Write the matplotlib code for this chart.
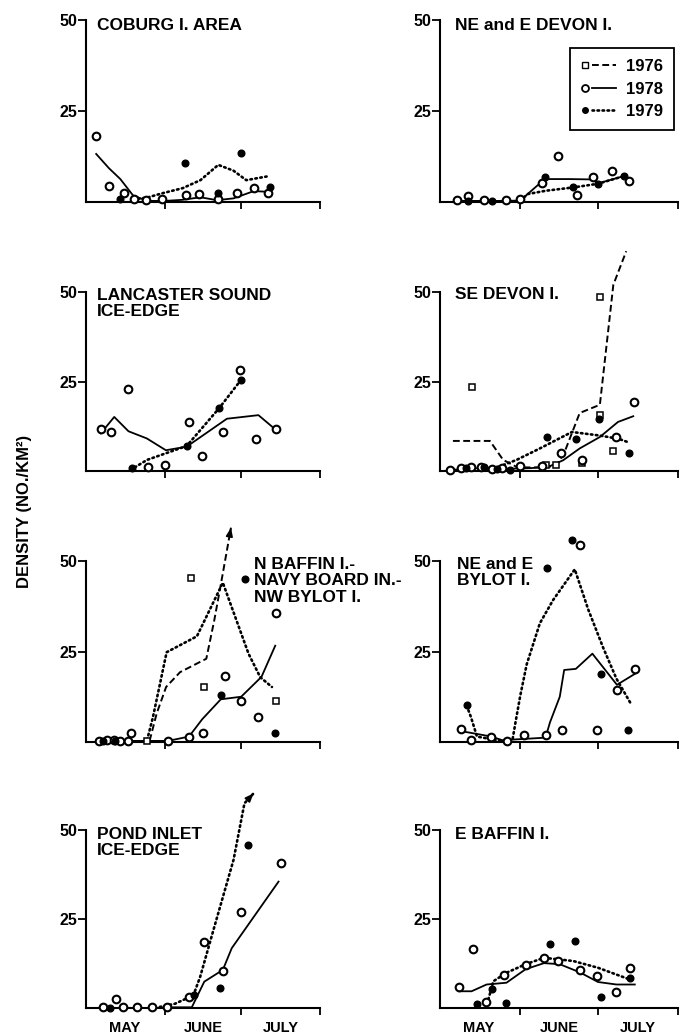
import matplotlib
matplotlib.use('Agg')
import matplotlib.pyplot as plt
import numpy as np
from matplotlib.lines import Line2D
from matplotlib.legend_handler import HandlerBase

plt.rcParams['font.family'] = ['Liberation Sans', 'DejaVu Sans']
plt.rcParams['font.weight'] = 'bold'

# %% data: x = days since 1 May, y = density (no./km2)
# COBURG I. AREA
cob_o_day = [4, 9, 15, 19, 23.5, 30, 39.5, 44.5, 52, 59.5, 66, 71.5]
cob_o_val = [18.1, 4.4, 2.6, 0.7, 0.5, 0.7, 1.9, 2.1, 0.7, 2.4, 3.9, 2.4]
cob_f_day = [13.5, 39, 52, 61, 72.5]
cob_f_val = [0.7, 10.8, 2.6, 13.4, 4.0]
cob_78_day = [4, 9, 13.5, 18.5, 24, 31, 38, 45, 51.5, 58, 66, 71.5]
cob_78_val = [13.2, 9.3, 6.3, 1.8, 0.3, 0.3, 0.6, 1.3, 0.5, 1.0, 3.0, 2.8]
cob_79_day = [18.5, 24, 30, 38, 45, 52, 58, 63, 71]
cob_79_val = [0.7, 1.2, 2.4, 3.8, 6.0, 10.2, 8.6, 6.0, 7.0]

# NE and E DEVON I.
ned_o_day = [6.7, 11, 17, 25.5, 31, 39.5, 45.5, 53, 59, 66.5, 73]
ned_o_val = [0.5, 1.7, 0.5, 0.5, 0.9, 5.1, 12.6, 1.9, 6.8, 8.5, 5.9]
ned_f_day = [11, 20, 40.5, 51.5, 61, 71]
ned_f_val = [0.2, 0.3, 6.8, 4.0, 5.0, 7.1]
ned_78_day = [6.7, 15, 25, 31, 40.5, 50, 59, 61, 71, 73]
ned_78_val = [0.3, 0.3, 0.3, 0.4, 6.3, 6.3, 6.2, 5.1, 7.1, 6.1]
ned_79_day = [31, 34, 41, 51.5, 61, 71, 73]
ned_79_val = [0.4, 2.2, 3.1, 4.0, 5.0, 7.1, 6.3]

# LANCASTER SOUND ICE-EDGE
lan_o_day = [6, 10, 16.7, 24.3, 31, 40.3, 45.8, 54, 60.6, 67, 74.8]
lan_o_val = [11.7, 10.8, 22.9, 1.0, 1.7, 13.7, 4.3, 11.0, 28.2, 8.8, 11.7]
lan_f_day = [18.2, 39.6, 52.4, 61]
lan_f_val = [0.8, 7.0, 17.6, 25.5]
lan_78_day = [5.8, 11.1, 16.7, 23.9, 31.4, 39.6, 55.4, 67.8, 74.8]
lan_78_val = [10.5, 15.1, 11.1, 9.1, 5.8, 6.8, 14.6, 15.6, 11.4]
lan_79_day = [17.5, 24, 39.6, 52.4, 61]
lan_79_val = [0.3, 3.1, 7.0, 17.6, 25.5]

# SE DEVON I.
sed_s_day = [12.5, 41, 45, 54.7, 61.8, 61.8, 66.9]
sed_s_val = [23.6, 1.7, 1.7, 2.1, 48.6, 15.6, 5.6]
sed_o_day = [4, 8, 12, 16, 20, 24, 31, 39.5, 46.9, 54.7, 68.2, 75]
sed_o_val = [0.3, 0.8, 1.0, 1.2, 0.6, 0.8, 1.5, 1.3, 4.9, 3.2, 9.5, 19.4]
sed_f_day = [10, 17, 22, 27, 41.5, 52.4, 61.5, 73.1]
sed_f_val = [0.8, 1.2, 0.6, 0.4, 9.4, 8.9, 14.4, 4.9]
sed_76_day = [5, 19.3, 24.4, 30, 40, 45, 48, 54, 61.8, 67, 72]
sed_76_val = [8.4, 8.4, 3.1, 1.0, 1.0, 1.5, 5.0, 16.2, 18.5, 52, 61.4]
sed_78_day = [4, 15, 25, 35, 42, 47.6, 54, 61.8, 68.8, 74.7]
sed_78_val = [0.3, 0.8, 0.6, 0.8, 1.2, 3.0, 6.3, 9.5, 13.7, 15.3]
sed_79_day = [15, 22, 29.6, 38.6, 51, 61.8, 69, 73.3]
sed_79_val = [0.5, 1.0, 3.1, 6.3, 10.9, 9.9, 9.0, 7.9]

# N BAFFIN I.- NAVY BOARD IN.- NW BYLOT I.
nbf_s_day = [23.9, 41.2, 46.5, 74.8]
nbf_s_val = [0.2, 45.4, 15.2, 11.3]
nbf_o_day = [5.1, 8.1, 10.9, 13.4, 16.4, 17.6, 32.2, 40.5, 46, 54.7, 61, 67.8, 74.8]
nbf_o_val = [0.3, 0.5, 0.5, 0.3, 0.3, 2.4, 0.3, 1.5, 2.4, 18.1, 11.3, 7.0, 35.5]
nbf_f_day = [6.5, 11.5, 53.1, 62.6, 74.3]
nbf_f_val = [0.2, 0.4, 13.1, 45.0, 2.6]
nbf_76_day = [25, 27.8, 31.5, 37, 47.3, 50.4, 52.8, 57]
nbf_76_val = [0.3, 7.9, 15.2, 19.3, 23.0, 33.5, 42.7, 59.2]
nbf_78_day = [4, 20, 32.2, 40.5, 45.7, 53, 61, 69, 74.4]
nbf_78_val = [0.3, 0.3, 0.3, 1.5, 6.3, 11.8, 12.5, 18.0, 26.6]
nbf_79_day = [24, 26.3, 31.7, 43.6, 53.8, 63.9, 68.5, 73.1]
nbf_79_val = [0.5, 6.8, 24.8, 29.2, 44.0, 24.4, 17.9, 15.2]

# NE and E BYLOT I.
neb_o_day = [8.2, 12, 19.9, 26, 32.4, 40.8, 47.1, 54.3, 60.7, 68.6, 75.3]
neb_o_val = [3.5, 0.5, 1.5, 0.3, 1.8, 1.8, 3.4, 54.3, 3.4, 14.4, 20.3]
neb_f_day = [10.3, 41.4, 51.2, 62.4, 72.8]
neb_f_val = [10.1, 48.2, 55.8, 18.8, 3.2]
neb_78_day = [8.2, 19.9, 24, 40.8, 42.5, 46.3, 48, 52.5, 58.9, 68.4, 76.2]
neb_78_val = [3.0, 1.5, 0.5, 1.2, 5.4, 12.5, 19.9, 20.2, 24.4, 15.8, 19.2]
neb_79_day = [10.3, 12, 14.3, 22, 28, 29.2, 31, 33.5, 38.6, 43.7, 52.1, 57.3, 63.1, 68.2, 74]
neb_79_val = [10.1, 6.8, 1.5, 0.5, 0.5, 5.5, 12.7, 21.4, 32.8, 39.2, 47.7, 36.6, 26.0, 17.5, 10.3]

# POND INLET ICE-EDGE
pon_o_day = [6.6, 11.8, 14.7, 19.9, 25.8, 31.8, 40.3, 46.2, 53.8, 61, 76.6]
pon_o_val = [0.2, 2.4, 0.2, 0.4, 0.4, 0.2, 3.2, 18.6, 10.5, 27.1, 40.8]
pon_f_day = [9.4, 42.3, 52.5, 63.5]
pon_f_val = [0.0, 3.7, 5.5, 45.8]
pon_78_day = [31.8, 41.6, 46.5, 53.8, 57.3, 75.7]
pon_78_val = [0.2, 0.2, 7.4, 10.7, 16.8, 35.5]
pon_79_day = [29, 35, 39.6, 42.3, 44.9, 50.1, 58, 62.3, 65.9]
pon_79_val = [0.3, 1.2, 2.7, 3.7, 8.8, 21.9, 41.6, 57.5, 60.3]

# E BAFFIN I.
ebf_o_day = [7.3, 12.6, 17.6, 24.8, 33.1, 40.2, 45.7, 54.1, 60.8, 67.9, 73.4]
ebf_o_val = [5.9, 16.5, 1.7, 9.4, 12.1, 14.0, 13.2, 10.8, 8.9, 4.4, 11.3]
ebf_f_day = [14.4, 20, 25.4, 42.5, 52.1, 62.2, 73.4]
ebf_f_val = [1.0, 5.4, 1.4, 18.0, 18.7, 3.0, 8.5]
ebf_78_day = [7.3, 12.2, 18, 25.7, 33.1, 40.2, 46.3, 54.1, 61.1, 68.2, 75.3]
ebf_78_val = [4.7, 4.7, 6.6, 7.1, 10.9, 12.6, 12.3, 10.0, 7.3, 6.6, 6.6]
ebf_79_day = [18.7, 20.6, 25.7, 33.1, 40.2, 51.5, 61.1, 73.4]
ebf_79_val = [2.4, 7.5, 9.9, 12.3, 14.1, 13.2, 11.3, 8.0]

month_ticks = [31, 61, 92]
month_mid = [15, 46, 76.5]
month_names = ['MAY', 'JUNE', 'JULY']
years = ['1976', '1978', '1979']

# %% panel table: (col, row, title, title px pos, squares, open, filled, lines, arrow-line)
panels = [
    (0, 0, 'COBURG I. AREA', (97, 18), None, (cob_o_day, cob_o_val), (cob_f_day, cob_f_val),
     [None, (cob_78_day, cob_78_val), (cob_79_day, cob_79_val)], None),
    (1, 0, 'NE and E DEVON I.', (455, 18), None, (ned_o_day, ned_o_val), (ned_f_day, ned_f_val),
     [None, (ned_78_day, ned_78_val), (ned_79_day, ned_79_val)], None),
    (0, 1, 'LANCASTER SOUND\nICE-EDGE', (97, 288), None, (lan_o_day, lan_o_val), (lan_f_day, lan_f_val),
     [None, (lan_78_day, lan_78_val), (lan_79_day, lan_79_val)], None),
    (1, 1, 'SE DEVON I.', (455, 287), (sed_s_day, sed_s_val), (sed_o_day, sed_o_val), (sed_f_day, sed_f_val),
     [(sed_76_day, sed_76_val), (sed_78_day, sed_78_val), (sed_79_day, sed_79_val)], None),
    (0, 2, 'N BAFFIN I.-\nNAVY BOARD IN.-\nNW BYLOT I.', (254, 557), (nbf_s_day, nbf_s_val),
     (nbf_o_day, nbf_o_val), (nbf_f_day, nbf_f_val),
     [(nbf_76_day, nbf_76_val), (nbf_78_day, nbf_78_val), (nbf_79_day, nbf_79_val)], 0),
    (1, 2, 'NE and E\nBYLOT I.', (457, 557), None, (neb_o_day, neb_o_val), (neb_f_day, neb_f_val),
     [None, (neb_78_day, neb_78_val), (neb_79_day, neb_79_val)], None),
    (0, 3, 'POND INLET\nICE-EDGE', (97, 827), None, (pon_o_day, pon_o_val), (pon_f_day, pon_f_val),
     [None, (pon_78_day, pon_78_val), (pon_79_day, pon_79_val)], 2),
    (1, 3, 'E BAFFIN I.', (455, 827), None, (ebf_o_day, ebf_o_val), (ebf_f_day, ebf_f_val),
     [None, (ebf_78_day, ebf_78_val), (ebf_79_day, ebf_79_val)], None),
]

W, H = 685, 1035
col_x = [(86, 320), (440, 678)]
row_y = [(202, 20), (471, 292), (742, 561), (1008, 830)]  # pixel y of 0 and of 50

line_styles = [dict(ls=(0, (3.5, 1.8)), lw=1.4),
               dict(ls='-', lw=1.3),
               dict(ls=(0, (0.6, 1.3)), lw=1.9, dash_capstyle='round')]
sq_kw = dict(ls='none', marker='s', ms=5, mfc='white', mec='k', mew=1.1, zorder=4, clip_on=False)
op_kw = dict(ls='none', marker='o', ms=5.5, mfc='white', mec='k', mew=1.5, zorder=4, clip_on=False)
fi_kw = dict(ls='none', marker='o', ms=4.8, mfc='k', mec='k', zorder=4, clip_on=False)


class LeftMarker(HandlerBase):
    # marker at the left end of the sample line, as in the original key
    def create_artists(self, legend, orig_handle, xdescent, ydescent, width, height, fontsize, trans):
        y = (height - ydescent) / 2
        x0 = -xdescent + 3
        line = Line2D([x0 + 5, -xdescent + width], [y, y])
        self.update_prop(line, orig_handle, legend)
        line.set_marker('None')
        mark = Line2D([x0], [y])
        self.update_prop(mark, orig_handle, legend)
        mark.set_linestyle('None')
        line.set_transform(trans)
        mark.set_transform(trans)
        return [line, mark]


fig = plt.figure(figsize=(W / 100, H / 100), dpi=100)

for col, row, title, tpos, sq, op, fi, lines, arrow in panels:
    x0, x1 = col_x[col]
    y0, y50 = row_y[row]
    ax = fig.add_axes([x0 / W, 1 - y0 / H, (x1 - x0) / W, (y0 - y50) / H])
    ax.set_xlim(0, 92)
    ax.set_ylim(0, 50)
    for s in ['top', 'right']:
        ax.spines[s].set_visible(False)
    for s in ['left', 'bottom']:
        ax.spines[s].set_linewidth(1.5)
    ax.set_yticks([25, 50])
    ax.set_yticklabels(['25', '50'], fontsize=11.5, fontweight='bold')
    ax.tick_params(axis='y', length=6, width=1.3, pad=0.5)
    ax.set_xticks(month_ticks)
    ax.set_xticklabels([])
    ax.tick_params(axis='x', which='major', length=5, width=1.3)
    if row == 3:
        ax.set_xticks(month_mid, month_names, minor=True)
        ax.tick_params(axis='x', which='minor', length=0, pad=9, labelsize=10.5)

    for k, ln in enumerate(lines):
        if ln is None:
            continue
        ax.plot(ln[0], ln[1], color='k', clip_on=False, zorder=3, **line_styles[k])
        if arrow == k:
            xa, ya = ln[0][-2:], ln[1][-2:]
            ax.annotate('', xy=(xa[1], ya[1]),
                        xytext=(xa[1] - 0.15 * (xa[1] - xa[0]), ya[1] - 0.15 * (ya[1] - ya[0])),
                        arrowprops=dict(arrowstyle='-|>,head_length=0.5,head_width=0.2',
                                        color='k', lw=1.2, shrinkA=0, shrinkB=0),
                        annotation_clip=False)
    if sq is not None:
        ax.plot(sq[0], sq[1], **sq_kw)
    ax.plot(op[0], op[1], **op_kw)
    ax.plot(fi[0], fi[1], **fi_kw)

    fig.text(tpos[0] / W, 1 - tpos[1] / H, title, fontsize=12.5, fontweight='bold',
             ha='left', va='top', linespacing=1.12)

    if col == 1 and row == 0:
        handles = [Line2D([], [], color='k', marker='s', ms=4.5, mfc='white', mew=1.0, **line_styles[0]),
                   Line2D([], [], color='k', marker='o', ms=5, mfc='white', mew=1.3, **line_styles[1]),
                   Line2D([], [], color='k', marker='o', ms=4, mfc='k', **line_styles[2])]
        leg = ax.legend(handles, years, loc='upper right', bbox_to_anchor=(0.983, 0.846),
                        handler_map={Line2D: LeftMarker()}, fancybox=False, framealpha=1,
                        edgecolor='k', borderpad=0.67, labelspacing=0.44, handlelength=2.1,
                        handletextpad=0.6, borderaxespad=0,
                        prop=dict(size=12, weight='bold'))
        leg.get_frame().set_linewidth(1.3)

fig.text(24 / W, 1 - 511 / H, 'DENSITY (NO./KM²)', rotation=90, fontsize=12,
         fontweight='bold', ha='center', va='center')

fig.savefig('out.png', dpi=100)
